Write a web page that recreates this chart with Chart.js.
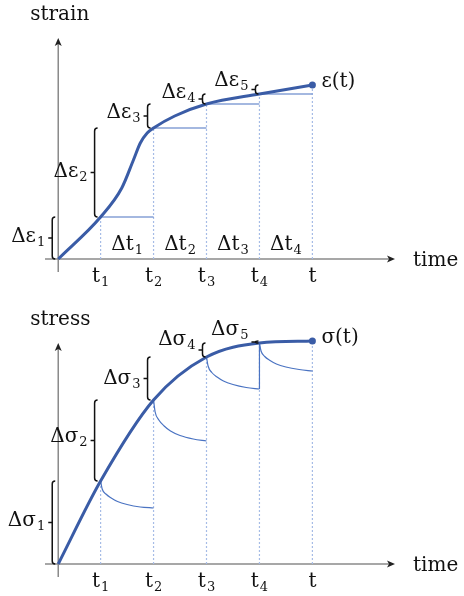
<!DOCTYPE html>
<html>
<head>
<meta charset="utf-8">
<script src="https://cdn.jsdelivr.net/npm/chart.js@4.4.0/dist/chart.umd.min.js"></script>
<style>
  html, body { margin: 0; padding: 0; background: #fff; }
  .panel { position: relative; width: 464px; height: 298px; }
</style>
</head>
<body>
<div class="panel"><canvas id="strainChart" width="464" height="298"></canvas></div>
<div class="panel"><canvas id="stressChart" width="464" height="298"></canvas></div>
<script>
// time marks t1..t4 and t
const tickTimes = [0.8, 1.8, 2.8, 3.8, 4.8];
const tickSubs = ['1', '2', '3', '4', ''];

// strain history (step loading)
const strainTimes = [0, 0.8, 1.2, 1.42, 1.55, 1.68, 1.8, 2.2, 2.8, 3.8, 4.8];
const strainValues = [0, 4.2, 7.1, 9.9, 11.6, 12.6, 13.1, 14.3, 15.5, 16.5, 17.4];
const strainAtTicks = [4.2, 13.1, 15.5, 16.5, 17.4];

// stress history
const stressTimes = [0, 0.8, 1.8, 2.8, 3.8, 4.8];
const stressValues = [0, 8.3, 16.4, 20.7, 22.1, 22.3];

// relaxation of each stress increment
const relaxTimes1 = [0.8, 0.83, 0.9, 1.0, 1.12, 1.3, 1.55, 1.8];
const relaxStress1 = [8.3, 7.5, 7.0, 6.6, 6.25, 5.95, 5.7, 5.6];
const relaxTimes2 = [1.8, 1.83, 1.9, 2.0, 2.12, 2.3, 2.55, 2.8];
const relaxStress2 = [16.4, 15.2, 14.4, 13.8, 13.3, 12.85, 12.5, 12.3];
const relaxTimes3 = [2.8, 2.83, 2.9, 3.0, 3.12, 3.3, 3.55, 3.8];
const relaxStress3 = [20.7, 19.8, 19.15, 18.7, 18.3, 17.95, 17.65, 17.5];
const relaxTimes4 = [3.8, 3.83, 3.9, 4.0, 4.12, 4.3, 4.55, 4.8];
const relaxStress4 = [22.1, 21.3, 20.75, 20.35, 20.0, 19.7, 19.45, 19.3];

const CURVE = '#3a5ca6';
const THIN = '#4a73c2';
const DOTTED = '#a6bce6';
const AXIS = '#8a8a8a';
const INK = '#111';
const SERIF = '"DejaVu Serif", serif';

// text with a lowered subscript
function drawSub(ctx, base, sub, x, y, align) {
  ctx.font = '20px ' + SERIF;
  const wb = ctx.measureText(base).width;
  ctx.font = '13px ' + SERIF;
  const ws = sub ? ctx.measureText(sub).width + 1 : 0;
  const w = wb + ws;
  const x0 = align === 'right' ? x - w : align === 'center' ? x - w / 2 : x;
  ctx.fillStyle = INK;
  ctx.textAlign = 'left';
  ctx.textBaseline = 'middle';
  ctx.font = '20px ' + SERIF;
  ctx.fillText(base, x0, y);
  if (sub) {
    ctx.font = '13px ' + SERIF;
    ctx.fillText(sub, x0 + wb + 1, y + 6);
  }
}

function drawBrace(ctx, x, yTop, yBot) {
  const r = Math.min(3, (yBot - yTop) / 2);
  const mid = (yTop + yBot) / 2;
  ctx.beginPath();
  ctx.moveTo(x + 3, yTop);
  ctx.quadraticCurveTo(x, yTop, x, yTop + r);
  ctx.lineTo(x, yBot - r);
  ctx.quadraticCurveTo(x, yBot, x + 3, yBot);
  ctx.moveTo(x, mid);
  ctx.lineTo(x - 4, mid);
  ctx.stroke();
}

function drawArrowHead(ctx, x, y, dir) {
  ctx.beginPath();
  if (dir === 'right') {
    ctx.moveTo(x, y);
    ctx.lineTo(x - 8, y - 3.5);
    ctx.lineTo(x - 6, y);
    ctx.lineTo(x - 8, y + 3.5);
  } else {
    ctx.moveTo(x, y);
    ctx.lineTo(x - 3.5, y + 8);
    ctx.lineTo(x, y + 6);
    ctx.lineTo(x + 3.5, y + 8);
  }
  ctx.closePath();
  ctx.fill();
}

// axes, braces and all labels of one panel
const diagramPlugin = {
  id: 'diagram',
  beforeDatasetsDraw(chart, args, opts) {
    const { ctx, chartArea: a, scales: { x, y } } = chart;
    const y0 = y.getPixelForValue(0);
    const x0 = x.getPixelForValue(0);
    ctx.save();
    ctx.strokeStyle = AXIS;
    ctx.lineWidth = 1.5;
    ctx.beginPath();
    ctx.moveTo(a.left, y0);
    ctx.lineTo(a.right - 3, y0);
    ctx.moveTo(x0, a.bottom);
    ctx.lineTo(x0, a.top + 3);
    ctx.stroke();
    ctx.fillStyle = '#222';
    drawArrowHead(ctx, a.right, y0, 'right');
    drawArrowHead(ctx, x0, a.top, 'up');
    ctx.restore();
  },
  afterDraw(chart, args, opts) {
    const { ctx, chartArea: a, scales: { x, y } } = chart;
    const y0 = y.getPixelForValue(0);
    const x0 = x.getPixelForValue(0);
    ctx.save();

    // axis titles
    ctx.fillStyle = INK;
    ctx.font = '20px ' + SERIF;
    ctx.textAlign = 'left';
    ctx.textBaseline = 'alphabetic';
    ctx.fillText(opts.title, x0 - 28, a.top - 18);
    ctx.fillText('time', a.right + 18, y0 + 7);

    // tick labels
    tickTimes.forEach((t, i) => {
      drawSub(ctx, 't', tickSubs[i], x.getPixelForValue(t), y0 + 18, 'center');
    });

    // interval labels
    if (opts.showIntervals) {
      for (let i = 0; i < tickTimes.length - 1; i++) {
        const cx = (x.getPixelForValue(tickTimes[i]) + x.getPixelForValue(tickTimes[i + 1])) / 2;
        drawSub(ctx, '\u0394t', String(i + 1), cx, y0 - 14, 'center');
      }
    }

    // increment braces
    ctx.strokeStyle = INK;
    ctx.lineWidth = 1.5;
    const vals = opts.values;
    vals.forEach((v, i) => {
      const prevT = i === 0 ? 0 : tickTimes[i - 1];
      const prevV = i === 0 ? 0 : vals[i - 1];
      const bx = x.getPixelForValue(prevT) - (i < 3 ? 6 : 4);
      const top = y.getPixelForValue(v);
      const bot = y.getPixelForValue(prevV);
      drawBrace(ctx, bx, top, bot);
      drawSub(ctx, '\u0394' + opts.symbol, String(i + 1), bx - 7, (top + bot) / 2 - opts.lift[i], 'right');
    });

    // end-point label
    const last = vals.length - 1;
    const ex = x.getPixelForValue(tickTimes[last]);
    const ey = y.getPixelForValue(vals[last]);
    ctx.fillStyle = INK;
    ctx.font = '20px ' + SERIF;
    ctx.textAlign = 'left';
    ctx.textBaseline = 'middle';
    ctx.fillText(opts.symbol + '(t)', ex + 9, ey - 3);
    ctx.restore();
  }
};

function pts(xs, ys) {
  return xs.map((t, i) => ({ x: t, y: ys[i] }));
}

function mainCurve(data) {
  return {
    data,
    borderColor: CURVE,
    borderWidth: 3,
    cubicInterpolationMode: 'monotone',
    pointRadius: c => (c.dataIndex === data.length - 1 ? 3.5 : 0),
    pointBackgroundColor: CURVE,
    pointBorderWidth: 0,
    clip: false
  };
}

function thinLine(data, smooth) {
  return {
    data,
    borderColor: THIN,
    borderWidth: 1.2,
    cubicInterpolationMode: smooth ? 'monotone' : 'default',
    pointRadius: 0,
    clip: false
  };
}

function guides(vals) {
  return tickTimes.map((t, i) => ({
    data: [{ x: t, y: 0 }, { x: t, y: vals[i] }],
    borderColor: DOTTED,
    borderWidth: 1.2,
    borderDash: [2, 2],
    pointRadius: 0,
    clip: false
  }));
}

function baseOptions(pad, plugin) {
  return {
    responsive: false,
    animation: false,
    events: [],
    layout: { padding: pad },
    plugins: { legend: { display: false }, tooltip: { enabled: false }, diagram: plugin },
    scales: {
      x: { type: 'linear', min: -0.25, max: 6.36, display: false },
      y: { type: 'linear', min: -1.3, max: 22.1, display: false }
    }
  };
}

// strain panel
const strainSteps = tickTimes.slice(0, -1).map((t, i) =>
  thinLine([{ x: t, y: strainAtTicks[i] }, { x: tickTimes[i + 1], y: strainAtTicks[i] }], false));

new Chart(document.getElementById('strainChart'), {
  type: 'line',
  data: {
    datasets: [mainCurve(pts(strainTimes, strainValues)), ...strainSteps, ...guides(strainAtTicks)]
  },
  options: baseOptions({ left: 45, right: 69, top: 38, bottom: 26 }, {
    title: 'strain', symbol: '\u03b5', values: strainAtTicks, lift: [1, 1, 3, 6, 9], showIntervals: true
  }),
  plugins: [diagramPlugin]
});

// stress panel
const relaxSets = [
  pts(relaxTimes1, relaxStress1),
  pts(relaxTimes2, relaxStress2),
  pts(relaxTimes3, relaxStress3),
  pts(relaxTimes4, relaxStress4)
].map(d => thinLine(d, true));
const closeT4 = thinLine([{ x: tickTimes[3], y: relaxStress3[relaxStress3.length - 1] },
  { x: tickTimes[3], y: stressValues[4] }], false);

new Chart(document.getElementById('stressChart'), {
  type: 'line',
  data: {
    datasets: [mainCurve(pts(stressTimes, stressValues)), ...relaxSets, closeT4, ...guides(stressValues.slice(1))]
  },
  options: baseOptions({ left: 45, right: 69, top: 45, bottom: 19 }, {
    title: 'stress', symbol: '\u03c3', values: stressValues.slice(1), lift: [2, 4, 0, 10, 12], showIntervals: false
  }),
  plugins: [diagramPlugin]
});
</script>
</body>
</html>
